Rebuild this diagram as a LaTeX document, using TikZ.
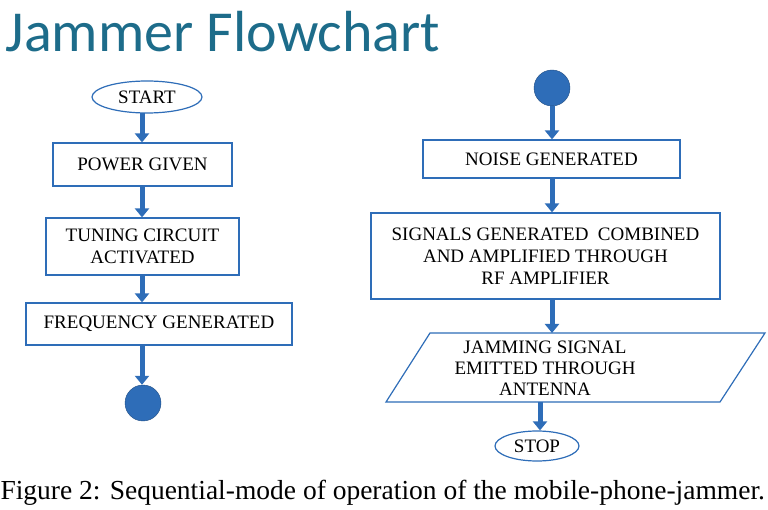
\documentclass[tikz,border=0pt]{standalone}
\usepackage{fontspec}
\setmainfont{Liberation Serif}
\newfontfamily\titlefont{Carlito}
\usetikzlibrary{shapes.geometric,arrows.meta}
\definecolor{fb}{HTML}{2E6DB8}
\definecolor{tt}{HTML}{1D6C8A}
\begin{document}
\begin{tikzpicture}[x=1pt,y=-1pt,
  box/.style={draw=fb,line width=1.2pt,fill=white,align=center,font=\fontsize{19}{22}\selectfont,inner sep=0pt},
  term/.style={ellipse,draw=fb,line width=1.2pt,fill=white,font=\fontsize{19}{22}\selectfont,inner sep=0pt},
  dot/.style={circle,fill=fb,draw=fb!70!black,minimum size=36pt,inner sep=0pt},
  arr/.style={fb,line width=5pt,-{Triangle[width=14pt,length=9pt]}}]
\useasboundingbox (0,0) rectangle (768,510);
\node[anchor=west,text=tt,font=\titlefont\fontsize{58}{62}\selectfont] (title) at (2,32) {Jammer Flowchart};
% left
\node[term,minimum width=110pt,minimum height=32pt] (start) at (147,97) {START};
\node[box,minimum width=179pt,minimum height=43pt] (power) at (142.5,164.5) {POWER GIVEN};
\node[box,minimum width=193pt,minimum height=57pt] (tune) at (142.5,246.5) {TUNING CIRCUIT\\ACTIVATED};
\node[box,minimum width=266pt,minimum height=42pt] (freq) at (159,324) {FREQUENCY GENERATED};
\node[dot] (end1) at (143,403) {};
\draw[arr] (142,113) coordinate (s1) -- (s1 |- power.north);
\draw[arr] (142,186) coordinate (a2) -- (a2 |- tune.north);
\draw[arr] (142,275) coordinate (a3) -- (a3 |- freq.north);
\draw[arr] (142,345) coordinate (a4) -- (a4 |- end1.north);
% right
\node[dot] (top2) at (552,88) {};
\node[box,minimum width=257pt,minimum height=38pt] (noise) at (551.5,159) {NOISE GENERATED};
\node[box,minimum width=349pt,minimum height=86pt] (sig) at (545.5,256) {SIGNALS GENERATED\ \ COMBINED\\AND AMPLIFIED THROUGH\\RF AMPLIFIER};
\draw[fb,line width=1.2pt,fill=white] (430,333) coordinate (p1) -- (765,333) -- (720,402) -- (386,402) -- cycle;
\node[align=center,font=\fontsize{19}{21}\selectfont] (jam) at (545,368) {JAMMING SIGNAL\\EMITTED THROUGH\\ANTENNA};
\node[term,minimum width=84pt,minimum height=30pt] (stop) at (537,446) {STOP};
\draw[arr] (top2.south) -- (top2.south |- noise.north);
\draw[arr] (552,178) coordinate (b2) -- (b2 |- sig.north);
\draw[arr] (552,299) coordinate (b3) -- (552,333);
\draw[arr] (540,402) coordinate (b4) -- (b4 |- stop.north);
\node[anchor=west,font=\fontsize{27.5}{30}\selectfont] (cap) at (-3,493) {Figure 2: Sequential-mode of operation of the mobile-phone-jammer.};
\end{tikzpicture}
\end{document}
